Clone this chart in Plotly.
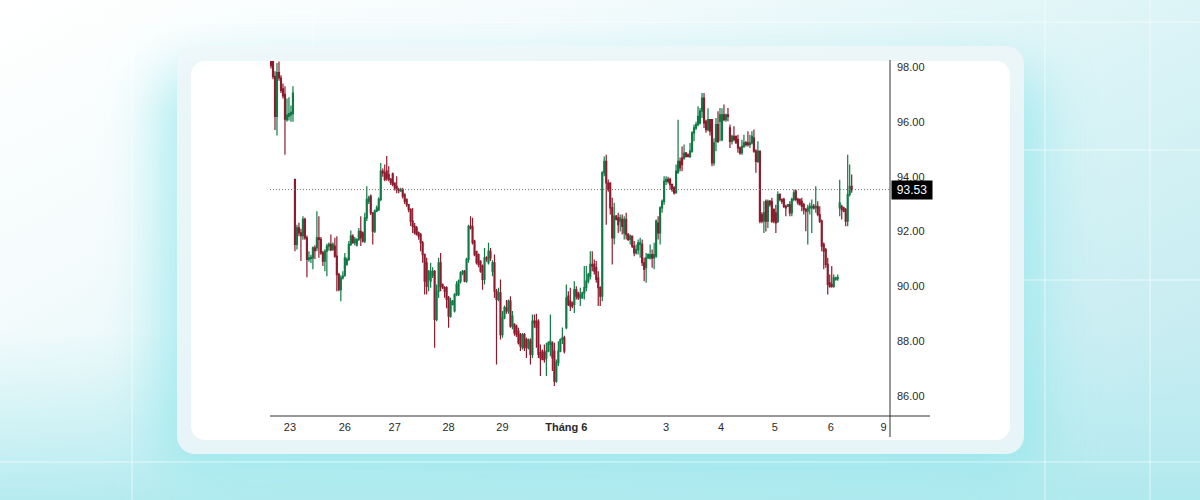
import base64
import plotly.graph_objects as go

# ---------------- data (hourly candles) ----------------
OPEN = [
    # 23
    98.60, 98.45, 97.65, 96.20, 97.80, 97.60, 97.20, 97.00, 96.08, 96.20, 96.25, 96.30,
    # 26 - 27
    93.90, 91.53, 92.13, 91.95, 91.85, 92.44, 91.77, 90.98, 91.02, 91.04,
    91.40, 91.40, 91.77, 91.71, 91.22, 90.92, 91.28, 91.47, 91.53, 91.34,
    91.47, 91.10, 90.43, 89.88, 90.31, 90.40, 90.80, 90.98, 91.53, 91.83,
    91.59, 91.50, 91.71, 92.01, 91.95, 91.65, 92.50, 93.10, 93.29, 92.68,
    92.01, 92.74, 92.80, 93.17, 94.20, 94.14, 94.20, 94.08, 93.90, 94.10,
    93.77, 93.65, 93.53, 93.47, 93.53, 93.35, 93.17, 92.98, 92.80,
    # 28 - 29
    92.38, 92.19, 92.13, 91.95, 91.89, 91.59, 91.16, 90.86, 90.25, 90.19,
    90.40, 90.55, 88.79, 89.82, 90.86, 90.07, 89.95, 89.95, 89.58, 88.91,
    89.34, 89.10, 89.70, 89.70, 90.19, 90.49, 90.55, 90.19, 90.98, 92.19,
    92.19, 91.65, 91.28, 91.16, 90.92, 90.74, 90.25, 91.04, 90.86, 91.28,
    90.55, 90.86, 89.82, 89.52, 89.76, 88.24, 88.85, 89.22, 89.10, 89.46,
    88.55, 88.61, 88.55, 88.37, 88.24, 87.76, 88.24, 88.06, 87.76, 88.00,
    87.52, 88.73, 88.73, 88.73, 87.58, 87.64, 87.58, 87.39, 87.64, 87.88,
    87.94, 87.64, 86.54, 87.21, 87.64, 88.06,
    # Thang 6 - 3
    88.12, 88.49, 89.64, 89.46, 89.40, 89.34, 89.88, 89.76, 89.58, 89.58,
    89.76, 89.95, 90.19, 90.37, 90.80, 90.80, 90.68, 90.31, 89.95, 89.64,
    94.14, 94.56, 93.77, 93.77, 92.86, 91.77, 92.56, 92.50, 92.38, 92.44,
    91.95, 92.44, 91.89, 91.71, 91.83, 91.47, 91.22, 91.34, 91.53, 91.53,
    90.86, 90.68, 91.04, 91.04, 91.16, 91.04, 91.10, 92.31, 91.95, 92.86,
    93.10, 93.83, 93.90, 93.90, 93.71, 93.59, 93.41, 94.14, 94.56, 94.68,
    94.68, 94.86, 94.80, 94.74, 94.93, 95.60, 95.78, 95.90, 95.96, 96.39,
    96.87, 96.02, 95.72, 96.08, 96.08,
    # 4 - 6
    94.50, 95.29, 95.90, 96.02, 95.35, 96.26, 96.08, 96.26, 95.78, 95.29,
    95.47, 95.47, 95.35, 95.05, 94.87, 95.11, 95.23, 95.23, 95.17, 95.23,
    95.41, 94.93, 94.56, 94.93, 92.62, 92.38, 93.10, 92.38, 93.10, 93.10,
    92.80, 92.68, 92.38, 93.35, 93.17, 93.17, 92.92, 92.92, 92.98, 92.68,
    93.17, 93.47, 93.17, 93.17, 93.10, 92.98, 92.80, 92.74, 92.86, 92.86,
    92.92, 92.86, 92.92, 92.62, 92.38, 91.53, 91.34, 90.80, 90.13, 90.07,
    90.00, 90.25, 90.28, 92.86, 92.92, 92.86, 92.80, 92.38, 93.35, 93.65,
]

HIGH = [
    98.80, 98.60, 97.85, 98.15, 98.20, 97.70, 97.40, 97.30, 96.85, 96.90, 96.60, 97.30,
    93.92, 92.25, 92.32, 92.10, 92.56, 92.50, 91.85, 91.28, 91.15, 91.45,
    91.50, 92.74, 92.56, 91.80, 91.30, 91.35, 91.55, 91.60, 91.89, 91.60,
    91.77, 91.83, 90.50, 90.40, 90.55, 91.22, 91.05, 91.65, 92.04, 91.90,
    91.80, 91.75, 92.13, 92.56, 92.00, 92.68, 93.65, 93.30, 93.35, 92.70,
    92.80, 92.95, 93.25, 94.50, 94.30, 94.44, 94.75, 94.38, 93.95, 94.15,
    93.80, 94.02, 93.60, 93.60, 93.60, 93.40, 93.20, 93.00, 92.85,
    92.86, 92.31, 92.20, 92.00, 91.95, 91.65, 91.20, 91.04, 90.60, 90.86,
    90.70, 90.60, 90.07, 91.04, 91.22, 90.10, 90.00, 90.00, 89.65, 89.58,
    89.50, 89.75, 90.19, 90.25, 90.55, 90.60, 90.60, 91.04, 92.25, 92.56,
    92.50, 91.70, 91.30, 91.20, 90.95, 90.80, 91.40, 91.10, 91.59, 91.40,
    90.95, 91.16, 89.90, 89.95, 90.25, 89.10, 89.30, 89.50, 89.52, 89.64,
    89.10, 88.65, 88.60, 88.49, 88.30, 88.30, 88.30, 88.12, 88.10, 88.10,
    88.97, 88.97, 89.00, 88.80, 87.88, 87.70, 87.88, 87.94, 88.00, 88.97,
    88.00, 87.94, 87.33, 88.00, 88.10, 88.50,
    88.20, 90.07, 89.82, 89.95, 89.45, 90.19, 90.00, 89.80, 89.95, 89.80,
    90.74, 90.74, 90.50, 91.28, 91.28, 90.98, 90.92, 90.55, 90.00, 94.20,
    94.74, 94.80, 93.90, 93.80, 93.23, 93.05, 92.60, 92.68, 92.62, 92.62,
    92.56, 92.68, 91.95, 91.89, 91.85, 91.65, 91.53, 91.71, 91.77, 91.71,
    91.04, 91.22, 91.20, 91.53, 91.34, 91.59, 92.44, 92.56, 92.92, 93.17,
    94.02, 94.02, 94.00, 93.96, 93.75, 93.65, 94.44, 96.08, 94.70, 95.10,
    95.17, 94.90, 94.85, 95.23, 95.66, 95.90, 96.00, 96.57, 96.51, 97.05,
    97.05, 96.08, 96.50, 96.10, 96.10,
    95.40, 96.14, 96.39, 96.51, 96.50, 96.63, 96.30, 96.51, 95.90, 95.53,
    95.84, 95.50, 95.53, 95.10, 95.35, 95.53, 95.30, 95.66, 95.53, 95.66,
    95.72, 95.00, 95.29, 94.95, 92.70, 93.10, 93.17, 93.17, 93.15, 93.23,
    92.85, 92.98, 93.47, 93.40, 93.20, 93.23, 92.98, 93.00, 93.10, 93.23,
    93.53, 93.53, 93.23, 93.20, 93.23, 93.05, 92.86, 92.98, 93.05, 93.17,
    93.00, 93.65, 93.10, 92.92, 92.44, 91.60, 91.40, 91.04, 90.43, 90.74,
    90.43, 90.35, 90.43, 93.89, 92.98, 92.90, 92.86, 94.80, 94.44, 94.08,
]

LOW = [
    97.95, 97.55, 95.70, 95.50, 97.50, 97.05, 96.85, 94.80, 96.00, 96.05, 96.00, 96.00,
    91.28, 91.34, 91.83, 90.92, 91.70, 91.70, 90.33, 90.90, 90.85, 90.62,
    91.00, 91.28, 91.04, 91.15, 90.74, 90.55, 90.37, 91.30, 91.28, 91.30,
    91.04, 89.82, 89.82, 89.46, 90.25, 90.35, 90.75, 90.92, 91.47, 91.55,
    91.50, 91.45, 91.65, 91.47, 91.60, 91.58, 92.38, 93.00, 92.60, 91.53,
    91.95, 92.70, 92.75, 93.10, 94.00, 93.83, 93.85, 93.83, 93.70, 93.65,
    93.50, 93.40, 93.40, 93.45, 93.20, 93.00, 92.90, 92.70, 92.20,
    91.95, 91.89, 91.85, 91.70, 91.28, 90.86, 89.70, 89.70, 89.82, 89.95,
    90.30, 87.76, 88.73, 89.58, 89.82, 89.90, 89.58, 89.20, 88.49, 88.85,
    89.30, 89.05, 89.64, 89.65, 90.10, 90.40, 90.15, 90.13, 90.86, 92.07,
    91.53, 91.10, 90.80, 90.70, 90.50, 89.88, 90.07, 90.90, 90.80, 90.92,
    90.37, 89.58, 87.15, 89.46, 88.06, 88.12, 88.80, 89.00, 89.00, 88.49,
    88.43, 88.20, 88.15, 87.88, 87.64, 87.70, 87.64, 87.39, 87.70, 87.15,
    87.39, 88.49, 87.76, 87.39, 86.73, 87.30, 87.21, 86.73, 87.60, 87.45,
    86.91, 86.36, 86.48, 87.09, 87.60, 87.90,
    87.55, 88.43, 89.28, 89.10, 89.20, 89.03, 89.52, 89.50, 89.28, 89.55,
    89.52, 89.82, 90.10, 90.25, 90.55, 90.43, 90.13, 89.28, 89.28, 89.46,
    94.02, 92.25, 93.45, 92.62, 90.80, 91.53, 92.40, 91.95, 92.00, 91.89,
    91.71, 91.71, 91.65, 91.53, 91.40, 91.10, 91.16, 91.16, 91.04, 90.74,
    90.19, 90.13, 91.00, 90.98, 90.68, 90.62, 91.04, 91.71, 91.53, 92.68,
    92.98, 93.70, 93.75, 93.53, 93.45, 93.35, 93.41, 94.14, 94.20, 94.20,
    94.62, 94.70, 94.70, 94.68, 94.87, 95.29, 95.70, 95.84, 95.90, 96.14,
    95.78, 95.60, 95.66, 95.50, 94.38,
    94.40, 94.93, 95.23, 95.29, 95.29, 96.02, 96.00, 96.02, 95.05, 95.17,
    95.29, 95.20, 94.87, 94.80, 94.80, 95.05, 95.10, 95.10, 95.05, 95.17,
    94.87, 94.14, 94.50, 92.30, 92.30, 91.95, 92.00, 92.13, 92.90, 92.31,
    92.30, 91.95, 92.31, 93.10, 93.00, 92.86, 92.56, 92.90, 92.56, 92.56,
    93.10, 93.10, 92.98, 92.95, 92.74, 92.62, 92.01, 91.53, 92.62, 91.95,
    92.80, 92.68, 92.56, 92.31, 91.28, 90.62, 90.68, 89.70, 89.95, 89.95,
    89.95, 90.20, 90.20, 92.56, 92.44, 92.70, 92.19, 92.19, 93.28, 93.41,
]

CLOSE = [
    98.05, 97.65, 96.20, 97.80, 97.60, 97.15, 96.95, 96.10, 96.25, 96.30, 96.35, 97.05,
    91.53, 92.13, 91.95, 91.85, 92.44, 91.77, 90.98, 91.04, 91.06, 91.40,
    91.30, 91.77, 91.71, 91.22, 90.92, 91.28, 91.47, 91.53, 91.34, 91.53,
    91.10, 90.43, 89.88, 90.31, 90.37, 91.04, 90.98, 91.53, 91.83, 91.59,
    91.71, 91.71, 92.01, 91.77, 91.65, 92.50, 93.17, 93.23, 92.68, 92.01,
    92.74, 92.86, 93.17, 94.20, 94.14, 93.90, 93.95, 93.90, 93.78, 93.71,
    93.59, 93.53, 93.50, 93.53, 93.29, 93.10, 92.98, 92.80, 92.38,
    92.19, 91.95, 91.89, 91.83, 91.59, 91.16, 90.19, 90.00, 90.55, 90.55,
    90.55, 88.79, 89.82, 90.86, 90.00, 89.95, 89.82, 89.52, 88.91, 89.46,
    89.46, 89.70, 90.07, 90.19, 90.49, 90.55, 90.19, 90.98, 92.19, 92.13,
    91.59, 91.16, 90.86, 90.80, 90.55, 90.25, 91.04, 91.00, 91.28, 91.04,
    90.86, 89.82, 89.52, 89.76, 88.24, 88.85, 89.22, 89.10, 89.46, 88.55,
    88.91, 88.30, 88.24, 87.94, 87.82, 88.24, 87.76, 87.76, 88.06, 87.52,
    88.73, 88.67, 88.49, 87.52, 87.39, 87.33, 87.33, 87.64, 87.94, 88.00,
    87.39, 86.54, 87.21, 87.64, 88.06, 88.12,
    87.64, 89.58, 89.34, 89.28, 89.28, 89.88, 89.64, 89.58, 89.70, 89.76,
    89.95, 90.19, 90.43, 90.80, 90.74, 90.55, 90.25, 89.95, 89.64, 94.14,
    94.56, 93.77, 93.53, 92.86, 91.77, 92.56, 92.44, 92.25, 92.50, 92.19,
    92.44, 91.89, 91.71, 91.83, 91.47, 91.22, 91.34, 91.59, 91.59, 90.86,
    90.62, 91.04, 91.16, 91.16, 91.04, 91.16, 92.38, 91.95, 92.86, 93.10,
    93.83, 93.90, 93.83, 93.71, 93.53, 93.41, 94.20, 94.56, 94.32, 94.44,
    94.86, 94.74, 94.74, 94.93, 95.60, 95.78, 95.90, 96.20, 96.39, 96.87,
    95.96, 95.72, 96.08, 95.66, 94.50,
    95.23, 95.90, 95.29, 96.26, 96.26, 96.08, 96.26, 96.20, 95.29, 95.47,
    95.35, 95.23, 95.05, 94.87, 95.11, 95.23, 95.17, 95.17, 95.23, 95.47,
    94.93, 94.56, 94.93, 92.38, 92.38, 92.68, 92.38, 93.10, 92.98, 92.38,
    92.38, 92.31, 93.35, 93.17, 93.10, 92.92, 92.86, 92.98, 92.68, 93.17,
    93.41, 93.17, 93.05, 92.98, 92.92, 92.80, 92.74, 92.86, 92.92, 92.92,
    92.86, 92.92, 92.62, 92.38, 91.47, 91.28, 90.80, 90.07, 90.00, 90.00,
    90.31, 90.31, 90.33, 93.05, 92.80, 92.74, 92.38, 93.35, 93.65, 93.53,
]

# x-axis day labels (positions in candle-index units)
TICK_POS = [9.5, 37, 62, 89, 116, 148, 198, 225.5, 252.5, 280.5, 307]
TICK_TEXT = ["23", "26", "27", "28", "29", "<b>Tháng 6</b>", "3", "4", "5", "6", "9"]

PRICE_TICKS = [86, 88, 90, 92, 94, 96, 98]
Y_RANGE = [85.27, 98.22]
X_RANGE = [-0.5, 310.2]

LAST = CLOSE[-1]
X_IDX = list(range(len(CLOSE)))

# ---------------- styling ----------------
W, H = 1200, 500
PLOT_L, PLOT_R, PLOT_T, PLOT_B = 270, 890, 61, 416
UP = "#0f7a45"
DOWN = "#8e1b2d"
FONT = "Liberation Sans, Arial, sans-serif"

svg = f"""<svg xmlns="http://www.w3.org/2000/svg" width="{W}" height="{H}" viewBox="0 0 {W} {H}">
<defs>
<linearGradient id="bg" x1="0" y1="0" x2="1" y2="0.8">
<stop offset="0" stop-color="#ffffff"/>
<stop offset="0.3" stop-color="#f4fbfc"/>
<stop offset="0.65" stop-color="#d9f3f6"/>
<stop offset="1" stop-color="#c3ebf0"/>
</linearGradient>
<linearGradient id="bot" x1="0" y1="0" x2="0" y2="1">
<stop offset="0" stop-color="#bdeef2" stop-opacity="0"/>
<stop offset="1" stop-color="#ade9ee" stop-opacity="0.85"/>
</linearGradient>
<filter id="blur" x="-30%" y="-30%" width="160%" height="160%"><feGaussianBlur stdDeviation="28"/></filter>
</defs>
<rect width="{W}" height="{H}" fill="url(#bg)"/>
<rect x="0" y="330" width="{W}" height="170" fill="url(#bot)"/>
<rect x="160" y="70" width="880" height="400" rx="30" fill="#8fe6ec" opacity="0.75" filter="url(#blur)"/>
<g stroke="#ffffff" stroke-opacity="0.3" stroke-width="2">
<line x1="132" y1="0" x2="132" y2="500"/>
<line x1="313" y1="0" x2="313" y2="60"/>
<line x1="1045" y1="0" x2="1045" y2="500"/>
<line x1="1150" y1="0" x2="1150" y2="500"/>
<line x1="0" y1="22" x2="1200" y2="22"/>
<line x1="1024" y1="150" x2="1200" y2="150"/>
<line x1="1024" y1="280" x2="1200" y2="280"/>
<line x1="0" y1="462" x2="1200" y2="462"/>
</g>
<rect x="177" y="46" width="847" height="408" rx="18" fill="#eef6f8" opacity="0.9"/>
<rect x="191" y="61" width="819" height="379" rx="14" fill="#ffffff"/>
</svg>"""
bg_uri = "data:image/svg+xml;base64," + base64.b64encode(svg.encode("utf-8")).decode("ascii")

fig = go.Figure()
fig.add_trace(go.Candlestick(
    x=X_IDX, open=OPEN, high=HIGH, low=LOW, close=CLOSE,
    increasing=dict(line=dict(color=UP, width=1.2), fillcolor=UP),
    decreasing=dict(line=dict(color=DOWN, width=1.2), fillcolor=DOWN),
    whiskerwidth=0, showlegend=False, hoverinfo="skip",
))

fig.update_layout(
    width=W, height=H,
    margin=dict(l=0, r=0, t=0, b=0),
    paper_bgcolor="#e8f6f8",
    plot_bgcolor="rgba(0,0,0,0)",
    showlegend=False,
    font=dict(family=FONT, size=11, color="#2a2a2a"),
    images=[dict(source=bg_uri, xref="paper", yref="paper", x=0, y=1,
                 sizex=1, sizey=1, xanchor="left", yanchor="top",
                 sizing="stretch", layer="below")],
    xaxis=dict(
        domain=[PLOT_L / W, PLOT_R / W], range=X_RANGE,
        tickmode="array", tickvals=TICK_POS, ticktext=TICK_TEXT,
        showgrid=False, zeroline=False, showline=False, ticks="",
        rangeslider=dict(visible=False), fixedrange=True,
        tickfont=dict(family=FONT, size=11, color="#2a2a2a"),
        ticklabelstandoff=3,
    ),
    yaxis=dict(
        domain=[1 - PLOT_B / H, 1 - PLOT_T / H], range=Y_RANGE,
        side="right", tickmode="array", tickvals=PRICE_TICKS,
        ticktext=[f"{v:.2f}" for v in PRICE_TICKS],
        showgrid=False, zeroline=False, showline=False, ticks="",
        tickfont=dict(family=FONT, size=11, color="#2a2a2a"),
        ticklabelstandoff=6,
    ),
    shapes=[
        # last-price dotted line
        dict(type="line", xref="paper", yref="y", x0=PLOT_L / W, x1=PLOT_R / W,
             y0=LAST, y1=LAST, line=dict(color="#777777", width=1, dash="1px,2px")),
        # bottom axis line
        dict(type="line", xref="paper", yref="paper", x0=PLOT_L / W, x1=930 / W,
             y0=1 - PLOT_B / H, y1=1 - PLOT_B / H, line=dict(color="#333333", width=1)),
        # right axis line
        dict(type="line", xref="paper", yref="paper", x0=PLOT_R / W, x1=PLOT_R / W,
             y0=1 - 60 / H, y1=1 - 437 / H, line=dict(color="#333333", width=1)),
    ],
    annotations=[
        dict(text=f"{LAST:.2f}", xref="paper", yref="y", x=PLOT_R / W, y=LAST,
             xanchor="left", yanchor="middle", showarrow=False, xshift=1,
             bgcolor="#000000", borderpad=2, width=36,
             font=dict(family=FONT, size=12, color="#ffffff")),
    ],
)

fig.write_html("out.html")
